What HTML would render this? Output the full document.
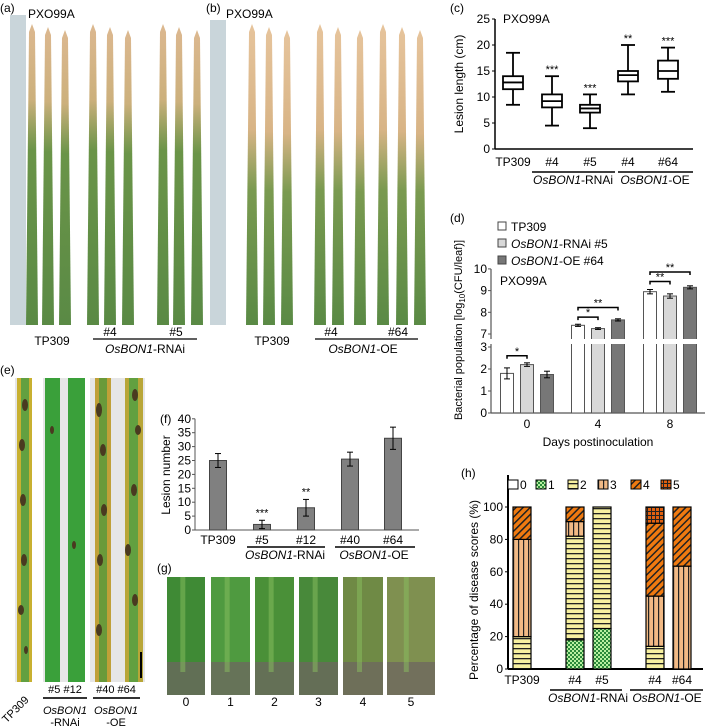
<!DOCTYPE html>
<html><head><meta charset="utf-8"><style>
body{margin:0;background:#fff}
svg{display:block;font-family:"Liberation Sans",Arial,sans-serif}
</style></head><body>
<svg id="fig" width="709" height="726" viewBox="0 0 709 726" xmlns="http://www.w3.org/2000/svg">
<defs>
<linearGradient id="leafA" x1="0" y1="0" x2="0" y2="1"><stop offset="0" stop-color="#dcb890"/><stop offset="0.25" stop-color="#ccb07c"/><stop offset="0.42" stop-color="#6a9448"/><stop offset="1" stop-color="#5a8a45"/></linearGradient>
<linearGradient id="leafB" x1="0" y1="0" x2="0" y2="1"><stop offset="0" stop-color="#e6c49c"/><stop offset="0.35" stop-color="#d8b486"/><stop offset="0.55" stop-color="#7a9a50"/><stop offset="1" stop-color="#5a8a45"/></linearGradient>
<pattern id="p1" width="4" height="4" patternUnits="userSpaceOnUse"><rect width="4" height="4" fill="#b8f0a0"/><rect width="2" height="2" fill="#2a8a3a"/><rect x="2" y="2" width="2" height="2" fill="#2a8a3a"/></pattern>
<pattern id="p2" width="6" height="5" patternUnits="userSpaceOnUse"><rect width="6" height="5" fill="#f7f0a0"/><rect y="3" width="6" height="1.3" fill="#222"/></pattern>
<pattern id="p3" width="5" height="6" patternUnits="userSpaceOnUse"><rect width="5" height="6" fill="#f1b985"/><rect x="3" width="1.2" height="6" fill="#222"/></pattern>
<pattern id="p4" width="5" height="5" patternUnits="userSpaceOnUse" patternTransform="rotate(45)"><rect width="5" height="5" fill="#f07a10"/><rect x="3" width="1.5" height="5" fill="#222"/></pattern>
<pattern id="p5" width="4" height="4" patternUnits="userSpaceOnUse"><rect width="4" height="4" fill="#e06010"/><rect x="3" width="1" height="4" fill="#222"/><rect y="3" width="4" height="1" fill="#222"/></pattern>
</defs>

<g>
<rect x="10" y="15" width="16" height="310" fill="#c9d5da"/>
<text x="0" y="12" font-size="12">(a)</text>
<text x="28" y="18" font-size="12">PXO99A</text>
</g>
<g>
<rect x="210" y="20" width="16" height="305" fill="#c9d5da"/>
<text x="206" y="12" font-size="12">(b)</text>
<text x="226" y="18" font-size="12">PXO99A</text>
</g>
<g id="leavesAB"></g>
<g font-size="12" text-anchor="middle">
<text x="52" y="345">TP309</text><text x="110" y="336">#4</text><text x="176" y="336">#5</text>
<line x1="93" y1="339" x2="197" y2="339" stroke="#000" stroke-width="1.2"/>
<text x="145" y="353"><tspan font-style="italic">OsBON1</tspan>-RNAi</text>
<text x="272" y="345">TP309</text><text x="331" y="336">#4</text><text x="398" y="336">#64</text>
<line x1="315" y1="339" x2="418" y2="339" stroke="#000" stroke-width="1.2"/>
<text x="363" y="353"><tspan font-style="italic">OsBON1</tspan>-OE</text>
</g>

<g>
<text x="0" y="374" font-size="12">(e)</text>
<rect x="15" y="378" width="130" height="304" fill="#e6e6e6"/>
<rect x="32" y="378" width="11" height="304" fill="#fff"/>
<rect x="85" y="378" width="5" height="304" fill="#fff"/>
<rect x="17" y="378" width="15" height="304" fill="#c8b030"/>
<rect x="21" y="378" width="8" height="304" fill="#62a040"/>
<rect x="45" y="378" width="15" height="304" fill="#3aa03a"/>
<rect x="68" y="378" width="17" height="304" fill="#3aa03a"/>
<rect x="95" y="378" width="16" height="304" fill="#c0a038"/>
<rect x="99" y="378" width="8" height="304" fill="#6a9a3a"/>
<rect x="125" y="378" width="18" height="304" fill="#b8a638"/>
<rect x="129" y="378" width="9" height="304" fill="#62a040"/>
<rect x="140" y="652" width="2" height="26" fill="#000"/>
<g fill="#4a3a20">
<ellipse cx="25" cy="405" rx="3" ry="6"/><ellipse cx="22" cy="445" rx="3" ry="6"/><ellipse cx="23" cy="500" rx="3" ry="6"/><ellipse cx="24" cy="560" rx="3" ry="6"/><ellipse cx="21" cy="610" rx="3" ry="5"/><ellipse cx="26" cy="650" rx="2" ry="4"/>
<ellipse cx="52" cy="430" rx="2" ry="4"/><ellipse cx="74" cy="545" rx="2" ry="4"/>
<ellipse cx="99" cy="410" rx="3" ry="7"/><ellipse cx="103" cy="450" rx="3" ry="6"/><ellipse cx="104" cy="510" rx="3" ry="6"/><ellipse cx="100" cy="560" rx="3" ry="6"/><ellipse cx="99" cy="630" rx="3" ry="6"/>
<ellipse cx="135" cy="395" rx="3" ry="6"/><ellipse cx="138" cy="430" rx="3" ry="5"/><ellipse cx="134" cy="490" rx="3" ry="6"/><ellipse cx="128" cy="550" rx="3" ry="6"/><ellipse cx="135" cy="600" rx="3" ry="6"/>
</g>
<g font-size="11" text-anchor="middle">
<text x="0" y="0" transform="translate(18,712) rotate(-45)">TP309</text>
<text x="65" y="693">#5  #12</text>
<line x1="43" y1="698" x2="87" y2="698" stroke="#333" stroke-width="2"/>
<text x="65" y="714" font-style="italic">OsBON1</text><text x="65" y="726">-RNAi</text>
<text x="116" y="693">#40 #64</text>
<line x1="93" y1="698" x2="140" y2="698" stroke="#333" stroke-width="2"/>
<text x="116" y="714" font-style="italic">OsBON1</text><text x="116" y="726">-OE</text>
</g>
</g>

<g>
<text x="157" y="572" font-size="12">(g)</text>
<g id="gTiles"></g>
</g>

<g id="panelC"></g>
<g id="panelD"></g>
<g id="panelF"></g>
<g id="panelH"></g>
</svg>
<script>
const cCats = ["TP309","#4","#5","#4","#64"];
const cMin = [8.5,4.5,4,10.5,11];
const cQ1 = [11.5,8,7,13,13.5];
const cMed = [12.8,9.2,7.8,14.2,15];
const cQ3 = [14,10.5,8.5,15,17];
const cMax = [18.5,14,10.5,20,19.5];
const cStars = ["","***","***","**","***"];
const cTicks = [0,5,10,15,20,25];
const dDays = ["0","4","8"];
const dSeries = ["TP309","OsBON1-RNAi #5","OsBON1-OE #64"];
const dTP309 = [1.8,7.4,8.95];
const dRNAi = [2.2,7.25,8.75];
const dOE = [1.75,7.65,9.15];
const dErrTP309 = [0.25,0.05,0.1];
const dErrRNAi = [0.08,0.04,0.1];
const dErrOE = [0.15,0.05,0.07];
const dTicksLow = [0,1,2,3];
const dTicksHigh = [7,8,9,10];
const fCats = ["TP309","#5","#12","#40","#64"];
const fVals = [25,2,8,25.5,33];
const fErr = [2.5,1.5,3,2.5,4];
const fStars = ["","***","**","",""];
const fTicks = [0,5,10,15,20,25,30,35,40];
const hCats = ["TP309","#4","#5","#4","#64"];
const hScore0 = [0,0,0,0,0];
const hScore1 = [0,18,25,0,0];
const hScore2 = [20,64,75,14,0];
const hScore3 = [60,9,0,31,63.5];
const hScore4 = [20,9,0,45,36.5];
const hScore5 = [0,0,0,10,0];
const hTicks = [0,20,40,60,80,100];
const gLabels = ["0","1","2","3","4","5"];

const NS="http://www.w3.org/2000/svg";
function mk(parent,tag,attrs,text){const e=document.createElementNS(NS,tag);for(const k in attrs)e.setAttribute(k,attrs[k]);if(text!==undefined)e.textContent=text;parent.appendChild(e);return e;}

const lv=document.getElementById('leavesAB');
[32,48,65,93,110,128,163,179,197,252,269,287,320,338,360,383,402,420].forEach((x,i)=>{
  const top=24+(i%3)*3;
  const p=mk(lv,'polygon',{points:`${x-6},325 ${x+6},325 ${x+3},${top+8} ${x},${top} ${x-3},${top+8}`,fill:i<9?'url(#leafA)':'url(#leafB)'});
  
  
});

const gT=document.getElementById('gTiles');
const gX=[167,211,255,299,343,387];const gW=[38,39,39,39,40,48];
gLabels.forEach((l,i)=>{
  const r=mk(gT,'rect',{x:gX[i],y:577,width:gW[i],height:118,fill:['#3f8a35','#4f9a40','#4a9038','#48893a','#6f8a45','#7f9050'][i]});
  
  
  mk(gT,'rect',{x:gX[i],y:662,width:gW[i],height:33,fill:'#6e6660',opacity:0.75});
  mk(gT,'rect',{x:gX[i]+gW[i]*0.35,y:577,width:5,height:95,fill:'#8ac060',opacity:0.5});
  const t=mk(gT,'text',{x:gX[i]+gW[i]/2,y:706,'font-size':12,'text-anchor':'middle'},l);
  
  
});

(function(){
const g=document.getElementById('panelC');
const x0=495,yb=149,yt=19,xs=[513,552,590,628,668];
const y=v=>yb-(v/25)*(yb-yt);
mk(g,'text',{x:450,y:12,'font-size':12},'(c)');
mk(g,'text',{x:503,y:23,'font-size':12},'PXO99A');
mk(g,'line',{x1:x0,y1:yt,x2:x0,y2:yb,stroke:'#000','stroke-width':1.5});
mk(g,'line',{x1:x0,y1:yb,x2:693,y2:yb,stroke:'#000','stroke-width':1.5});
cTicks.forEach(t=>{mk(g,'line',{x1:x0-3,y1:y(t),x2:x0,y2:y(t),stroke:'#000'});mk(g,'text',{x:x0-5,y:y(t)+4,'font-size':12,'text-anchor':'end'},t);});
const yl=mk(g,'text',{transform:'translate(463,84) rotate(-90)','font-size':12,'text-anchor':'middle'},'Lesion length (cm)');

cCats.forEach((c,i)=>{
  const cx=xs[i],w=20;
  mk(g,'line',{x1:cx,y1:y(cMin[i]),x2:cx,y2:y(cMax[i]),stroke:'#000','stroke-width':1.8});
  mk(g,'line',{x1:cx-7,y1:y(cMin[i]),x2:cx+7,y2:y(cMin[i]),stroke:'#000','stroke-width':1.8});
  mk(g,'line',{x1:cx-7,y1:y(cMax[i]),x2:cx+7,y2:y(cMax[i]),stroke:'#000','stroke-width':1.8});
  const b=mk(g,'rect',{x:cx-w/2,y:y(cQ3[i]),width:w,height:y(cQ1[i])-y(cQ3[i]),fill:'#fff',stroke:'#000','stroke-width':1.8});
  
  
  mk(g,'line',{x1:cx-w/2,y1:y(cMed[i]),x2:cx+w/2,y2:y(cMed[i]),stroke:'#000','stroke-width':1.8});
  if(cStars[i])mk(g,'text',{x:cx,y:y(cMax[i])-3,'font-size':11,'text-anchor':'middle'},cStars[i]);
  mk(g,'text',{x:cx,y:166,'font-size':12,'text-anchor':'middle'},c);
});
mk(g,'line',{x1:532,y1:172,x2:615,y2:172,stroke:'#000','stroke-width':1.5});
mk(g,'line',{x1:618,y1:172,x2:693,y2:172,stroke:'#000','stroke-width':1.5});
const a=mk(g,'text',{x:573,y:184,'font-size':12,'text-anchor':'middle'});a.innerHTML='<tspan font-style="italic">OsBON1</tspan>-RNAi';
const b2=mk(g,'text',{x:655,y:184,'font-size':12,'text-anchor':'middle'});b2.innerHTML='<tspan font-style="italic">OsBON1</tspan>-OE';
})();

(function(){
const g=document.getElementById('panelD');
const x0=491,xEnd=705;
const yLow=v=>413-v*22;
const yHigh=v=>334-(v-7)*21.7;
const yv=v=>v<=3.2?yLow(v):yHigh(v);
mk(g,'text',{x:450,y:222,'font-size':12},'(d)');
const cols=['#fff','#d8d8d8','#777'];
dSeries.forEach((s,i)=>{
  const ly=222+i*17;
  const r=mk(g,'rect',{x:498,y:ly,width:8,height:8,fill:cols[i],stroke:'#444'});
  
  
  const t=mk(g,'text',{x:511,y:ly+9,'font-size':12});
  t.innerHTML = i===0?'TP309':(i===1?'<tspan font-style="italic">OsBON1</tspan>-RNAi #5':'<tspan font-style="italic">OsBON1</tspan>-OE #64');
  
  
});
mk(g,'text',{x:500,y:285,'font-size':12},'PXO99A');
mk(g,'line',{x1:x0,y1:yHigh(10),x2:x0,y2:339,stroke:'#555','stroke-width':1.2});
mk(g,'line',{x1:x0,y1:344,x2:x0,y2:413,stroke:'#555','stroke-width':1.2});
mk(g,'line',{x1:x0,y1:413,x2:xEnd,y2:413,stroke:'#555','stroke-width':1.2});
dTicksLow.forEach(t=>{mk(g,'line',{x1:x0-3,y1:yLow(t),x2:x0,y2:yLow(t),stroke:'#555'});mk(g,'text',{x:x0-4,y:yLow(t)+4,'font-size':12,'text-anchor':'end'},t);});
dTicksHigh.forEach(t=>{mk(g,'line',{x1:x0-3,y1:yHigh(t),x2:x0,y2:yHigh(t),stroke:'#555'});mk(g,'text',{x:x0-4,y:yHigh(t)+4,'font-size':12,'text-anchor':'end'},t);});
const yl=mk(g,'text',{transform:'translate(462,330) rotate(-90)','font-size':11,'text-anchor':'middle'});
yl.innerHTML='Bacterial population [log<tspan font-size="8" dy="3">10</tspan><tspan dy="-3">(CFU/leaf)]</tspan>';

const centers=[527,598,670];
const vals=[dTP309,dRNAi,dOE],errs=[dErrTP309,dErrRNAi,dErrOE];
dDays.forEach((d,j)=>{
  vals.forEach((arr,i)=>{
    const cx=centers[j]+(i-1)*20,w=13,v=arr[j];
    const top=yv(v);
    const r=mk(g,'rect',{x:cx-w/2,y:top,width:w,height:413-top,fill:cols[i],stroke:'#555'});
    
    
    const e=errs[i][j];
    mk(g,'line',{x1:cx,y1:yv(v+e),x2:cx,y2:yv(v-e),stroke:'#000'});
    mk(g,'line',{x1:cx-3,y1:yv(v+e),x2:cx+3,y2:yv(v+e),stroke:'#000'});
    mk(g,'line',{x1:cx-3,y1:yv(v-e),x2:cx+3,y2:yv(v-e),stroke:'#000'});
  });
  mk(g,'text',{x:centers[j],y:428,'font-size':12,'text-anchor':'middle'},d);
});
mk(g,'rect',{x:x0+2,y:339,width:xEnd-x0,height:5,fill:'#fff'});
mk(g,'rect',{x:x0-5,y:340,width:10,height:3,fill:'#fff'});
function br(x1,x2,yy,s){mk(g,'path',{d:`M${x1},${yy+3}V${yy}H${x2}V${yy+3}`,fill:'none',stroke:'#000','stroke-width':1.5});mk(g,'text',{x:(x1+x2)/2,y:yy-1,'font-size':11,'text-anchor':'middle'},s);}
br(507,527,yLow(2.6),'*');
br(578,598,yHigh(7.78),'*');br(578,618,yHigh(8.22),'**');
br(650,670,yHigh(9.42),'**');br(650,690,yHigh(9.86),'**');
mk(g,'text',{x:598,y:446,'font-size':12,'text-anchor':'middle'},'Days postinoculation');
})();

(function(){
const g=document.getElementById('panelF');
const x0=195,yb=530,xs=[218,262,306,350,393];
const y=v=>yb-v*2.78;
mk(g,'text',{x:160,y:423,'font-size':12},'(f)');
mk(g,'line',{x1:x0,y1:y(40),x2:x0,y2:yb,stroke:'#555'});
mk(g,'line',{x1:x0,y1:yb,x2:419,y2:yb,stroke:'#555'});
fTicks.forEach(t=>{mk(g,'line',{x1:x0-3,y1:y(t),x2:x0,y2:y(t),stroke:'#555'});mk(g,'text',{x:x0-4,y:y(t)+4,'font-size':12,'text-anchor':'end'},t);});
const yl=mk(g,'text',{transform:'translate(170,475) rotate(-90)','font-size':12,'text-anchor':'middle'},'Lesion number');

fCats.forEach((c,i)=>{
  const cx=xs[i],w=17,v=fVals[i];
  const r=mk(g,'rect',{x:cx-w/2,y:y(v),width:w,height:yb-y(v),fill:'#808080',stroke:'#444'});
  
  
  const e=fErr[i];
  mk(g,'line',{x1:cx,y1:y(v+e),x2:cx,y2:y(v-e),stroke:'#000'});
  mk(g,'line',{x1:cx-3,y1:y(v+e),x2:cx+3,y2:y(v+e),stroke:'#000'});
  mk(g,'line',{x1:cx-3,y1:y(v-e),x2:cx+3,y2:y(v-e),stroke:'#000'});
  if(fStars[i])mk(g,'text',{x:cx,y:y(v+e)-4,'font-size':11,'text-anchor':'middle'},fStars[i]);
  mk(g,'text',{x:cx,y:544,'font-size':12,'text-anchor':'middle'},c);
});
mk(g,'line',{x1:247,y1:547,x2:325,y2:547,stroke:'#000','stroke-width':1.5});
mk(g,'line',{x1:335,y1:547,x2:415,y2:547,stroke:'#000','stroke-width':1.5});
const a=mk(g,'text',{x:285,y:559,'font-size':12,'text-anchor':'middle'});a.innerHTML='<tspan font-style="italic">OsBON1</tspan>-RNAi';
const b=mk(g,'text',{x:374,y:559,'font-size':12,'text-anchor':'middle'});b.innerHTML='<tspan font-style="italic">OsBON1</tspan>-OE';
})();

(function(){
const g=document.getElementById('panelH');
const x0=508,yb=669,xs=[522,575,602,655,682];
const y=v=>yb-v*1.62;
mk(g,'text',{x:461,y:477,'font-size':12},'(h)');
mk(g,'line',{x1:x0,y1:475,x2:x0,y2:yb,stroke:'#000','stroke-width':2});
mk(g,'line',{x1:x0,y1:yb,x2:703,y2:yb,stroke:'#000','stroke-width':2});
hTicks.forEach(t=>{mk(g,'line',{x1:x0-3,y1:y(t),x2:x0,y2:y(t),stroke:'#000'});mk(g,'text',{x:x0-5,y:y(t)+4,'font-size':12,'text-anchor':'end'},t);});
const yl=mk(g,'text',{transform:'translate(478,590) rotate(-90)','font-size':12,'text-anchor':'middle'},'Percentage of disease scores (%)');

const fills=['#fff','url(#p1)','url(#p2)','url(#p3)','url(#p4)','url(#p5)'];
const lx=[517,545,577,607,640,670];
fills.forEach((f,k)=>{
  const r=mk(g,'rect',{x:lx[k]-9,y:480,width:10,height:9,fill:f,stroke:'#000'});
  
  
  mk(g,'text',{x:lx[k]+3,y:489,'font-size':12},k);
});
const series=[hScore0,hScore1,hScore2,hScore3,hScore4,hScore5];
hCats.forEach((c,i)=>{
  let acc=0;
  series.forEach((s,k)=>{
    const v=s[i];if(!v)return;
    const r=mk(g,'rect',{x:xs[i]-9,y:y(acc+v),width:18,height:y(acc)-y(acc+v),fill:fills[k],stroke:'#000','stroke-width':1.2});
    
    
    acc+=v;
  });
  mk(g,'text',{x:xs[i],y:684,'font-size':12,'text-anchor':'middle'},c);
});
mk(g,'line',{x1:550,y1:690,x2:622,y2:690,stroke:'#000','stroke-width':1.5});
mk(g,'line',{x1:630,y1:690,x2:703,y2:690,stroke:'#000','stroke-width':1.5});
const a=mk(g,'text',{x:588,y:702,'font-size':12,'text-anchor':'middle'});a.innerHTML='<tspan font-style="italic">OsBON1</tspan>-RNAi';
const b=mk(g,'text',{x:667,y:702,'font-size':12,'text-anchor':'middle'});b.innerHTML='<tspan font-style="italic">OsBON1</tspan>-OE';
})();
</script>
</body></html>
